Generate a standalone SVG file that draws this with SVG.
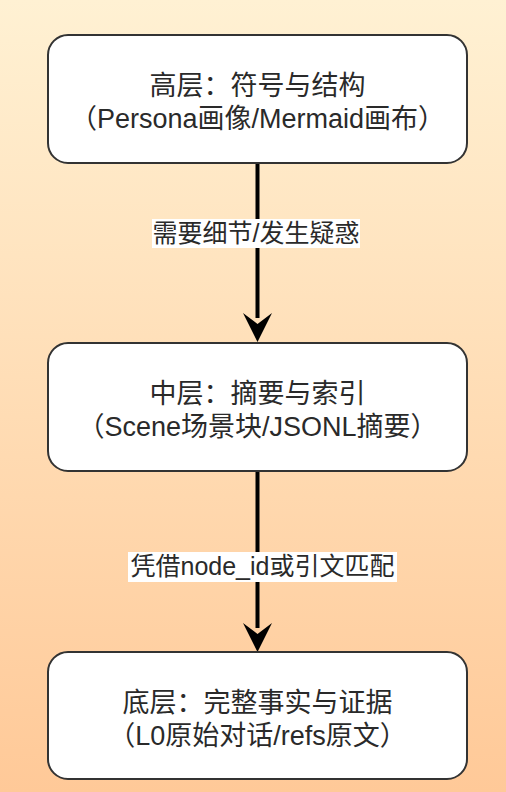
<svg xmlns="http://www.w3.org/2000/svg" width="506" height="792" viewBox="0 0 506 792">
<defs>
<linearGradient id="bg" x1="0" y1="0" x2="0" y2="1">
<stop offset="0" stop-color="#FFF1D3"/>
<stop offset="1" stop-color="#FFC998"/>
</linearGradient>
<style>
.box{fill:#fff;stroke:#333;stroke-width:2}
.t{font-family:"Liberation Sans","Noto Sans CJK SC",sans-serif;font-size:27px;fill:#2a2a2a;text-anchor:middle}
.l{font-family:"Liberation Sans","Noto Sans CJK SC",sans-serif;font-size:25px;fill:#2a2a2a;text-anchor:middle}
.lbl{fill:#fff}
.edge{stroke:#000;stroke-width:4;fill:none}
.head{fill:#000}
</style>
</defs>
<rect x="0" y="0" width="506" height="792" fill="url(#bg)"/>
<g id="connectors">
<line class="edge" x1="257.5" y1="163" x2="257.5" y2="318"/>
<path class="head" d="M243,313 L257.5,324 L272,313 L257.5,342 Z"/>
<line class="edge" x1="257.5" y1="471" x2="257.5" y2="628"/>
<path class="head" d="M243,623 L257.5,634 L272,623 L257.5,652 Z"/>
<g id="label1">
<rect class="lbl" x="152" y="219" width="208" height="29"/>
<text class="l" x="256" y="242">需要细节/发生疑惑</text>
</g>
<g id="label2">
<rect class="lbl" x="128" y="552" width="269" height="30"/>
<text class="l" x="262.5" y="575">凭借node_id或引文匹配</text>
</g>
</g>
<g id="node-top">
<rect class="box" x="48" y="35" width="419" height="128" rx="20"/>
<text class="t" x="257.5" y="95">高层：符号与结构</text>
<text class="t" x="257.5" y="128">（Persona画像/Mermaid画布）</text>
</g>
<g id="node-mid">
<rect class="box" x="48" y="343" width="419" height="128" rx="20"/>
<text class="t" x="257.5" y="403">中层：摘要与索引</text>
<text class="t" x="257.5" y="436">（Scene场景块/JSONL摘要）</text>
</g>
<g id="node-bottom">
<rect class="box" x="48" y="652" width="419" height="127" rx="20"/>
<text class="t" x="257.5" y="712">底层：完整事实与证据</text>
<text class="t" x="257.5" y="745">（L0原始对话/refs原文）</text>
</g>
</svg>
